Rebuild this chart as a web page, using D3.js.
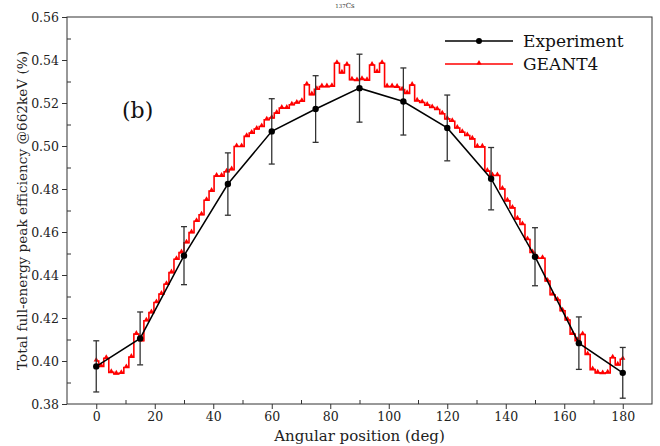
<!DOCTYPE html>
<html>
<head>
<meta charset="utf-8">
<script src="https://cdn.jsdelivr.net/npm/d3@7"></script>
<style>
  body { margin: 0; background: #fff; }
  svg { display: block; }
  .axis text { font-family: "DejaVu Serif", serif; font-size: 12.5px; fill: #222; }
  .axis path, .axis line { stroke: #333; }
</style>
</head>
<body>
<svg id="chart" width="660" height="446"></svg>
<script>
// experiment (black points with error bars)
var expAngles = [0, 15, 30, 45, 60, 75, 90, 105, 120, 135, 150, 165, 180];
var expValues = [0.3975, 0.4105, 0.4490, 0.4823, 0.5068, 0.5172, 0.5269, 0.5207, 0.5084, 0.4848, 0.4485, 0.4083, 0.3945];
var expErrors = [0.0119, 0.0123, 0.0135, 0.0145, 0.0152, 0.0155, 0.0158, 0.0156, 0.0153, 0.0145, 0.0135, 0.0122, 0.0118];

// GEANT4 simulation (red step curve)
var simAngles = [
  0, 1.71, 3.43, 5.14, 6.86, 8.57, 10.29,
  12, 13.71, 15.43, 17.14, 18.86, 20.57, 22.29,
  24, 25.71, 27.43, 29.14, 30.86, 32.57, 34.29,
  36, 37.71, 39.43, 41.14, 42.86, 44.57, 46.29,
  48, 49.71, 51.43, 53.14, 54.86, 56.57, 58.29,
  60, 61.71, 63.43, 65.14, 66.86, 68.57, 70.29,
  72, 73.71, 75.43, 77.14, 78.86, 80.57, 82.29,
  84, 85.71, 87.43, 89.14, 90.86, 92.57, 94.29,
  96, 97.71, 99.43, 101.14, 102.86, 104.57, 106.29,
  108, 109.71, 111.43, 113.14, 114.86, 116.57, 118.29,
  120, 121.71, 123.43, 125.14, 126.86, 128.57, 130.29,
  132, 133.71, 135.43, 137.14, 138.86, 140.57, 142.29,
  144, 145.71, 147.43, 149.14, 150.86, 152.57, 154.29,
  156, 157.71, 159.43, 161.14, 162.86, 164.57, 166.29,
  168, 169.71, 171.43, 173.14, 174.86, 176.57, 178.29,
  180];
var simValues = [
  0.4000, 0.3975, 0.4013, 0.3947, 0.3940, 0.3943, 0.3970,
  0.4018, 0.4125, 0.4094, 0.4187, 0.4225, 0.4272, 0.4311,
  0.4357, 0.4411, 0.4473, 0.4504, 0.4550, 0.4597, 0.4650,
  0.4680, 0.4748, 0.4790, 0.4860, 0.4860, 0.4880, 0.4890,
  0.4998, 0.4998, 0.5045, 0.5060, 0.5079, 0.5091, 0.5122,
  0.5130, 0.5153, 0.5176, 0.5176, 0.5192, 0.5200, 0.5208,
  0.5285, 0.5239, 0.5264, 0.5276, 0.5276, 0.5278, 0.5385,
  0.5340, 0.5377, 0.5308, 0.5305, 0.5310, 0.5306, 0.5377,
  0.5343, 0.5385, 0.5276, 0.5276, 0.5274, 0.5262, 0.5245,
  0.5283, 0.5210, 0.5202, 0.5190, 0.5179, 0.5170, 0.5150,
  0.5126, 0.5115, 0.5084, 0.5064, 0.5049, 0.5033, 0.4996,
  0.4996, 0.4883, 0.4863, 0.4863, 0.4800, 0.4745, 0.4712,
  0.4661, 0.4635, 0.4565, 0.4505, 0.4478, 0.4478, 0.4372,
  0.4308, 0.4284, 0.4234, 0.4191, 0.4125, 0.4095, 0.4123,
  0.4030, 0.3960, 0.3945, 0.3942, 0.3945, 0.4015, 0.3982,
  0.4008];

var xMajor = [0, 20, 40, 60, 80, 100, 120, 140, 160, 180];
var xMinor = [10, 30, 50, 70, 90, 110, 130, 150, 170];
var yMajor = [0.38, 0.40, 0.42, 0.44, 0.46, 0.48, 0.50, 0.52, 0.54, 0.56];
var yMinor = [0.39, 0.41, 0.43, 0.45, 0.47, 0.49, 0.51, 0.53, 0.55];
var seriesNames = ["Experiment", "GEANT4"];

var svg = d3.select("#chart"),
    margin = {top: 17, right: 8, bottom: 42, left: 67},
    width = +svg.attr("width") - margin.left - margin.right,
    height = +svg.attr("height") - margin.top - margin.bottom,
    g = svg.append("g").attr("transform", "translate(" + margin.left + "," + margin.top + ")");

var x = d3.scaleLinear().domain([-10, 190]).range([0, width]);
var y = d3.scaleLinear().domain([0.38, 0.56]).range([height, 0]);

// tiny title at the top
var ttl = svg.append("text")
  .attr("x", 345).attr("y", 8)
  .attr("text-anchor", "middle")
  .style("font-family", "DejaVu Serif").style("font-size", "7px").style("fill", "#333");
ttl.append("tspan").style("font-size", "5.5px").text("137");
ttl.append("tspan").text("Cs");

// frame
g.append("rect")
  .attr("width", width).attr("height", height)
  .attr("fill", "none").attr("stroke", "#333").attr("stroke-width", 1);

// axes
g.append("g").attr("class", "axis")
  .attr("transform", "translate(0," + height + ")")
  .call(d3.axisBottom(x).tickValues(xMajor).tickSize(5).tickPadding(3).tickFormat(d3.format("d")))
  .call(function(s) { s.select(".domain").remove(); });
g.append("g").attr("class", "axis")
  .attr("transform", "translate(0," + height + ")")
  .call(d3.axisBottom(x).tickValues(xMinor).tickSize(-4).tickFormat(""))
  .call(function(s) { s.select(".domain").remove(); });

g.append("g").attr("class", "axis")
  .call(d3.axisLeft(y).tickValues(yMajor).tickSize(5).tickPadding(3).tickFormat(d3.format(".2f")))
  .call(function(s) { s.select(".domain").remove(); });
g.append("g").attr("class", "axis")
  .call(d3.axisLeft(y).tickValues(yMinor).tickSize(-4).tickFormat(""))
  .call(function(s) { s.select(".domain").remove(); });

// axis titles
svg.append("text")
  .attr("x", margin.left + width / 2).attr("y", 441)
  .attr("text-anchor", "middle")
  .style("font-family", "DejaVu Serif").style("font-size", "15px").style("fill", "#222")
  .text("Angular position (deg)");
svg.append("text")
  .attr("transform", "translate(27," + (margin.top + height / 2) + ") rotate(-90)")
  .attr("text-anchor", "middle")
  .style("font-family", "DejaVu Serif").style("font-size", "13.6px").style("fill", "#222")
  .text("Total full-energy peak efficiency @662keV (%)");

// panel label
g.append("text")
  .attr("x", 55).attr("y", 101)
  .style("font-family", "DejaVu Serif").style("font-size", "22px").style("fill", "#111")
  .text("(b)");

// GEANT4 step curve
var sim = simAngles.map(function(a, i) { return {a: a, v: simValues[i]}; });
var stepLine = d3.line()
  .x(function(d) { return x(d.a); })
  .y(function(d) { return y(d.v); })
  .curve(d3.curveStep);
g.append("path")
  .datum(sim)
  .attr("fill", "none").attr("stroke", "#ff0000").attr("stroke-width", 1.6)
  .attr("d", stepLine);
var tri = d3.symbol().type(d3.symbolTriangle).size(12);
g.append("g").selectAll("path")
  .data(sim)
  .enter().append("path")
    .attr("d", tri)
    .attr("fill", "#ff0000")
    .attr("transform", function(d) { return "translate(" + x(d.a) + "," + (y(d.v) - 1) + ")"; });

// experiment
var exp = expAngles.map(function(a, i) { return {a: a, v: expValues[i], e: expErrors[i]}; });
g.append("path")
  .datum(exp)
  .attr("fill", "none").attr("stroke", "#000").attr("stroke-width", 1.5)
  .attr("d", d3.line().x(function(d) { return x(d.a); }).y(function(d) { return y(d.v); }));

var eb = g.append("g").attr("stroke", "#333").attr("stroke-width", 1.3);
exp.forEach(function(d) {
  eb.append("line").attr("x1", x(d.a)).attr("x2", x(d.a)).attr("y1", y(d.v - d.e)).attr("y2", y(d.v + d.e));
  eb.append("line").attr("x1", x(d.a) - 3).attr("x2", x(d.a) + 3).attr("y1", y(d.v - d.e)).attr("y2", y(d.v - d.e));
  eb.append("line").attr("x1", x(d.a) - 3).attr("x2", x(d.a) + 3).attr("y1", y(d.v + d.e)).attr("y2", y(d.v + d.e));
});

g.append("g").selectAll("circle")
  .data(exp)
  .enter().append("circle")
    .attr("cx", function(d) { return x(d.a); })
    .attr("cy", function(d) { return y(d.v); })
    .attr("r", 3.2)
    .attr("fill", "#000");

// legend
var legend = svg.append("g").attr("transform", "translate(445,41)");
var colors = ["#000", "#ff0000"];
seriesNames.forEach(function(name, i) {
  var row = legend.append("g").attr("transform", "translate(0," + (i * 23) + ")");
  row.append("line").attr("x1", 0).attr("x2", 68).attr("y1", 0).attr("y2", 0)
    .attr("stroke", colors[i]).attr("stroke-width", i ? 1.6 : 1.5);
  if (i === 0) {
    row.append("circle").attr("cx", 34).attr("cy", 0).attr("r", 3).attr("fill", colors[i]);
  } else {
    row.append("path").attr("d", tri).attr("fill", colors[i]).attr("transform", "translate(34,-1)");
  }
  row.append("text").attr("x", 78).attr("y", 6)
    .style("font-family", "DejaVu Serif").style("font-size", "17px").style("fill", "#111")
    .text(name);
});
</script>
</body>
</html>
